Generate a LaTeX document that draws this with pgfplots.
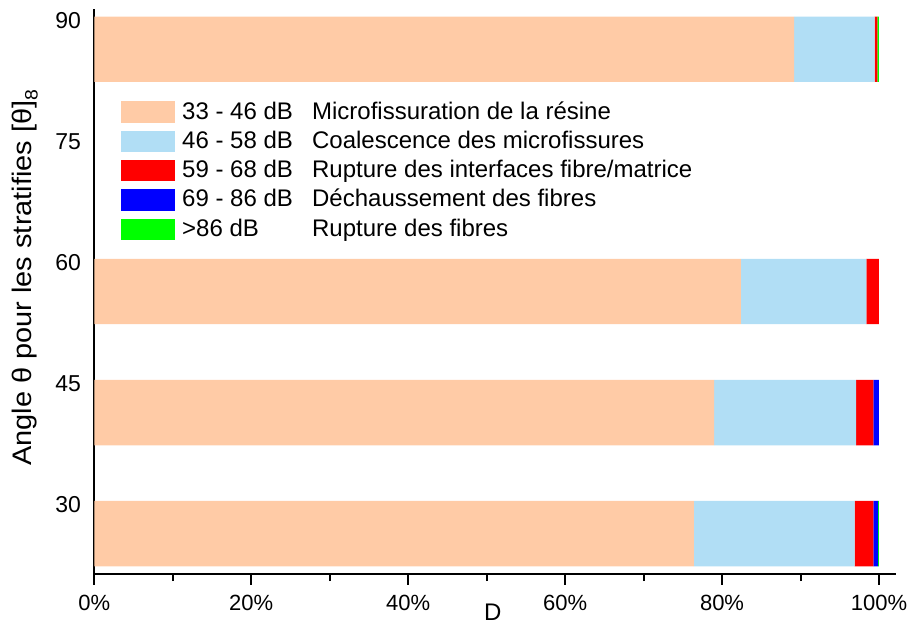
\documentclass[border=0pt]{standalone}
\usepackage{fontspec}
\setmainfont{Liberation Sans}
\usepackage{pgfplots}
\pgfplotsset{compat=1.18}
\definecolor{cPeach}{HTML}{FFCBA6}
\definecolor{cSky}{HTML}{B1DEF5}
\definecolor{cRed}{HTML}{FF0000}
\definecolor{cBlue}{HTML}{0000FF}
\definecolor{cGreen}{HTML}{00FF00}
\begin{document}
\begin{tikzpicture}
\begin{axis}[
  scale only axis, width=400.85pt, height=282.5pt,
  xbar stacked, bar width=8.1,
  xmin=0, xmax=102.17, ymin=21.42, ymax=91.4,
  axis lines*=left,
  axis line style={line width=1.2pt, black},
  xtick={0,20,...,100}, minor xtick={10,30,...,90},
  xticklabel={\pgfmathprintnumber{\tick}\%},
  tick align=outside, major tick length=5.2pt, minor tick length=3.4pt,
  xtick style={line width=1pt, black},
  ytick={30,45,60,75,90}, ytick style={draw=none},
  /pgf/number format/assume math mode=true,
  xticklabel style={font=\fontsize{11}{12}\selectfont, yshift=-1.6pt},
  yticklabel style={font=\fontsize{11.5}{13}\selectfont, xshift=2pt},
  xlabel={D},
  xlabel style={font=\fontsize{12}{14}\selectfont, at={(axis description cs:0.497,0)}, anchor=center, yshift=-19pt},
  ylabel={\scalebox{1.08}[1]{Angle θ pour les stratifies [θ]\raisebox{-3pt}{\fontsize{9}{9}\selectfont 8}}},
  ylabel style={font=\fontsize{13.4}{15}\selectfont, at={(axis description cs:-0.0864,0.525)}, anchor=center},
  legend cell align=left,
  legend image code/.code={\path[#1, draw=none] (0pt,-5.375pt) rectangle (26.7pt,5.375pt);},
  legend style={at={(axis cs:3.40,80.53)}, anchor=north west, draw=none, fill=none,
    font=\fontsize{12}{14}\selectfont, inner sep=0pt, row sep=0pt,
    nodes={inner sep=0.8pt, text height=10pt, text depth=3.05pt},
    /tikz/every odd column/.append style={column sep=2.9pt}},
]
\addplot[fill=cPeach, draw=none] coordinates {(89.2,86.45) (82.4,56.45) (79.0,41.45) (76.4,26.45)};
\addlegendentry{\makebox[65pt][l]{33 - 46 dB}Microfissuration de la résine}
\addplot[fill=cSky, draw=none] coordinates {(10.25,86.45) (16.0,56.45) (18.1,41.45) (20.5,26.45)};
\addlegendentry{\makebox[65pt][l]{46 - 58 dB}Coalescence des microfissures}
\addplot[fill=cRed, draw=none] coordinates {(0.35,86.45) (1.6,56.45) (2.2,41.45) (2.4,26.45)};
\addlegendentry{\makebox[65pt][l]{59 - 68 dB}Rupture des interfaces fibre/matrice}
\addplot[fill=cBlue, draw=none] coordinates {(0,86.45) (0,56.45) (0.7,41.45) (0.6,26.45)};
\addlegendentry{\makebox[65pt][l]{69 - 86 dB}Déchaussement des fibres}
\addplot[fill=cGreen, draw=none] coordinates {(0.2,86.45) (0,56.45) (0,41.45) (0.1,26.45)};
\addlegendentry{\makebox[65pt][l]{>86 dB}Rupture des fibres}
\end{axis}
\pgfresetboundingbox
\path ([shift={(-47.15pt,-24.85pt)}]current axis.south west) rectangle ([shift={(6pt,4.65pt)}]current axis.north east);
\end{tikzpicture}
\end{document}
